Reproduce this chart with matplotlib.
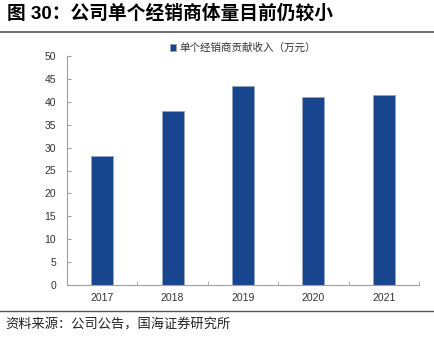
import numpy as np
import matplotlib
matplotlib.use("Agg")
import matplotlib.pyplot as plt

plt.rcParams['font.family'] = ['Liberation Sans', 'Noto Sans CJK SC', 'DejaVu Sans']

# dati
anni = ['2017', '2018', '2019', '2020', '2021']
ricavo = [28.2, 37.9, 43.5, 41.1, 41.4]
nomeSerie = '单个经销商贡献收入（万元）'
titolo = '图 30：公司单个经销商体量目前仍较小'
fonte = '资料来源：公司公告，国海证券研究所'

fig = plt.figure(figsize=(4.35, 3.44), dpi=100)
ax = fig.add_axes([67/435, 1 - 285/344, (419-67)/435, (285-56)/344])

x = np.arange(len(anni))
ax.bar(x, ricavo, width=0.31, color='#17468E', edgecolor='#9AA4B4', linewidth=0.6,
       label=nomeSerie, zorder=2)

ax.set_xlim(-0.5, len(anni) - 0.5)
ax.set_ylim(0, 50)
ax.set_yticks(np.arange(0, 51, 5))
ax.set_xticks(x)
ax.set_xticklabels(anni)
ax.set_xticks(np.arange(-0.5, len(anni), 1), minor=True)

for s in ['top', 'right']:
    ax.spines[s].set_visible(False)
for s in ['left', 'bottom']:
    ax.spines[s].set_color('#A0A0A0')
    ax.spines[s].set_linewidth(0.8)

ax.tick_params(axis='y', direction='in', length=3, color='#A0A0A0', labelsize=7.5,
               labelcolor='#333333', pad=8)
ax.tick_params(axis='x', which='major', length=0, labelsize=7.5, labelcolor='#333333', pad=6)
ax.tick_params(axis='x', which='minor', direction='in', length=3, color='#A0A0A0')

leg = ax.legend(loc='upper center', bbox_to_anchor=(0.5, 1.1), frameon=False,
                prop={'family': ['Noto Sans CJK SC'], 'size': 7.6},
                handlelength=0.6, handleheight=0.6, handletextpad=0.3)
for t in leg.get_texts():
    t.set_color('#333333')

# titolo e fonte
fig.text(7/435, 1 - 14/344, titolo, fontsize=13.5, fontweight='bold',
         family=['Liberation Sans', 'Noto Sans CJK SC'], va='center', ha='left')
fig.add_artist(plt.Line2D([0, 1], [1 - 32/344, 1 - 32/344], color='#555555', linewidth=1.2))
fig.add_artist(plt.Line2D([0, 1], [1 - 311/344, 1 - 311/344], color='#555555', linewidth=1.0))
fig.text(5/435, 1 - 325/344, fonte, fontsize=9.5, family=['Noto Sans CJK SC'],
         va='center', ha='left', color='#222222')

plt.savefig('out.png', dpi=100)
